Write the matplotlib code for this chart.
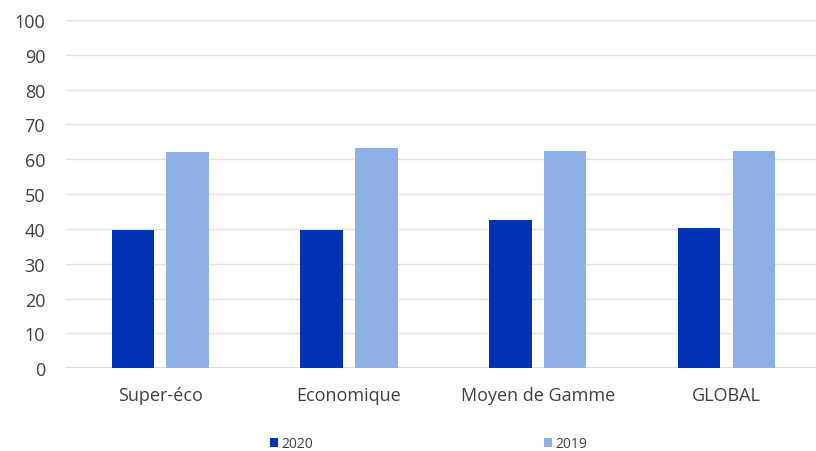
import matplotlib
matplotlib.use("Agg")
import matplotlib.pyplot as plt
import numpy as np

plt.rcParams['font.family'] = ['Open Sans', 'DejaVu Sans']

categories = ["Super-éco", "Economique", "Moyen de Gamme", "GLOBAL"]
vals_2020 = [39.7, 39.7, 42.6, 40.3]
vals_2019 = [62.0, 63.2, 62.4, 62.4]
series_names = ["2020", "2019"]
yticks = list(range(0, 101, 10))

c2020 = "#0033B4"
c2019 = "#8EB0E6"
txt = "#404040"

fig = plt.figure(figsize=(8.16, 4.52), dpi=100)
ax = fig.add_axes([0.0809, 0.183, 0.925, 0.7706])

x = np.arange(len(categories))
w = 0.225
b1 = ax.bar(x - 0.145, vals_2020, w, color=c2020, label=series_names[0], zorder=3)
b2 = ax.bar(x + 0.145, vals_2019, w, color=c2019, label=series_names[1], zorder=3)

ax.set_xlim(-0.5, len(categories) - 0.5)
ax.set_ylim(0, 100)
ax.set_yticks(yticks)
ax.set_xticks(x)
ax.set_xticklabels(categories)
ax.grid(axis='y', color='#e3e3e3', linewidth=1, zorder=0)
ax.axhline(0, color='#d9d9d9', linewidth=1.2, zorder=2)
for s in ax.spines.values():
    s.set_visible(False)
ax.tick_params(axis='both', length=0, labelsize=13, colors=txt)
ax.tick_params(axis='x', pad=13)
ax.tick_params(axis='y', pad=15)

# legend close to the bottom edge, texts still inside the figure
fig.legend(handles=[b1, b2], loc='lower center', bbox_to_anchor=(0.525, -0.02),
           ncol=2, frameon=False, fontsize=10, labelcolor=txt,
           handlelength=0.6, handleheight=0.6, handletextpad=0.25,
           columnspacing=16.6, borderpad=0.15)

fig.savefig("out.png", dpi=100)
